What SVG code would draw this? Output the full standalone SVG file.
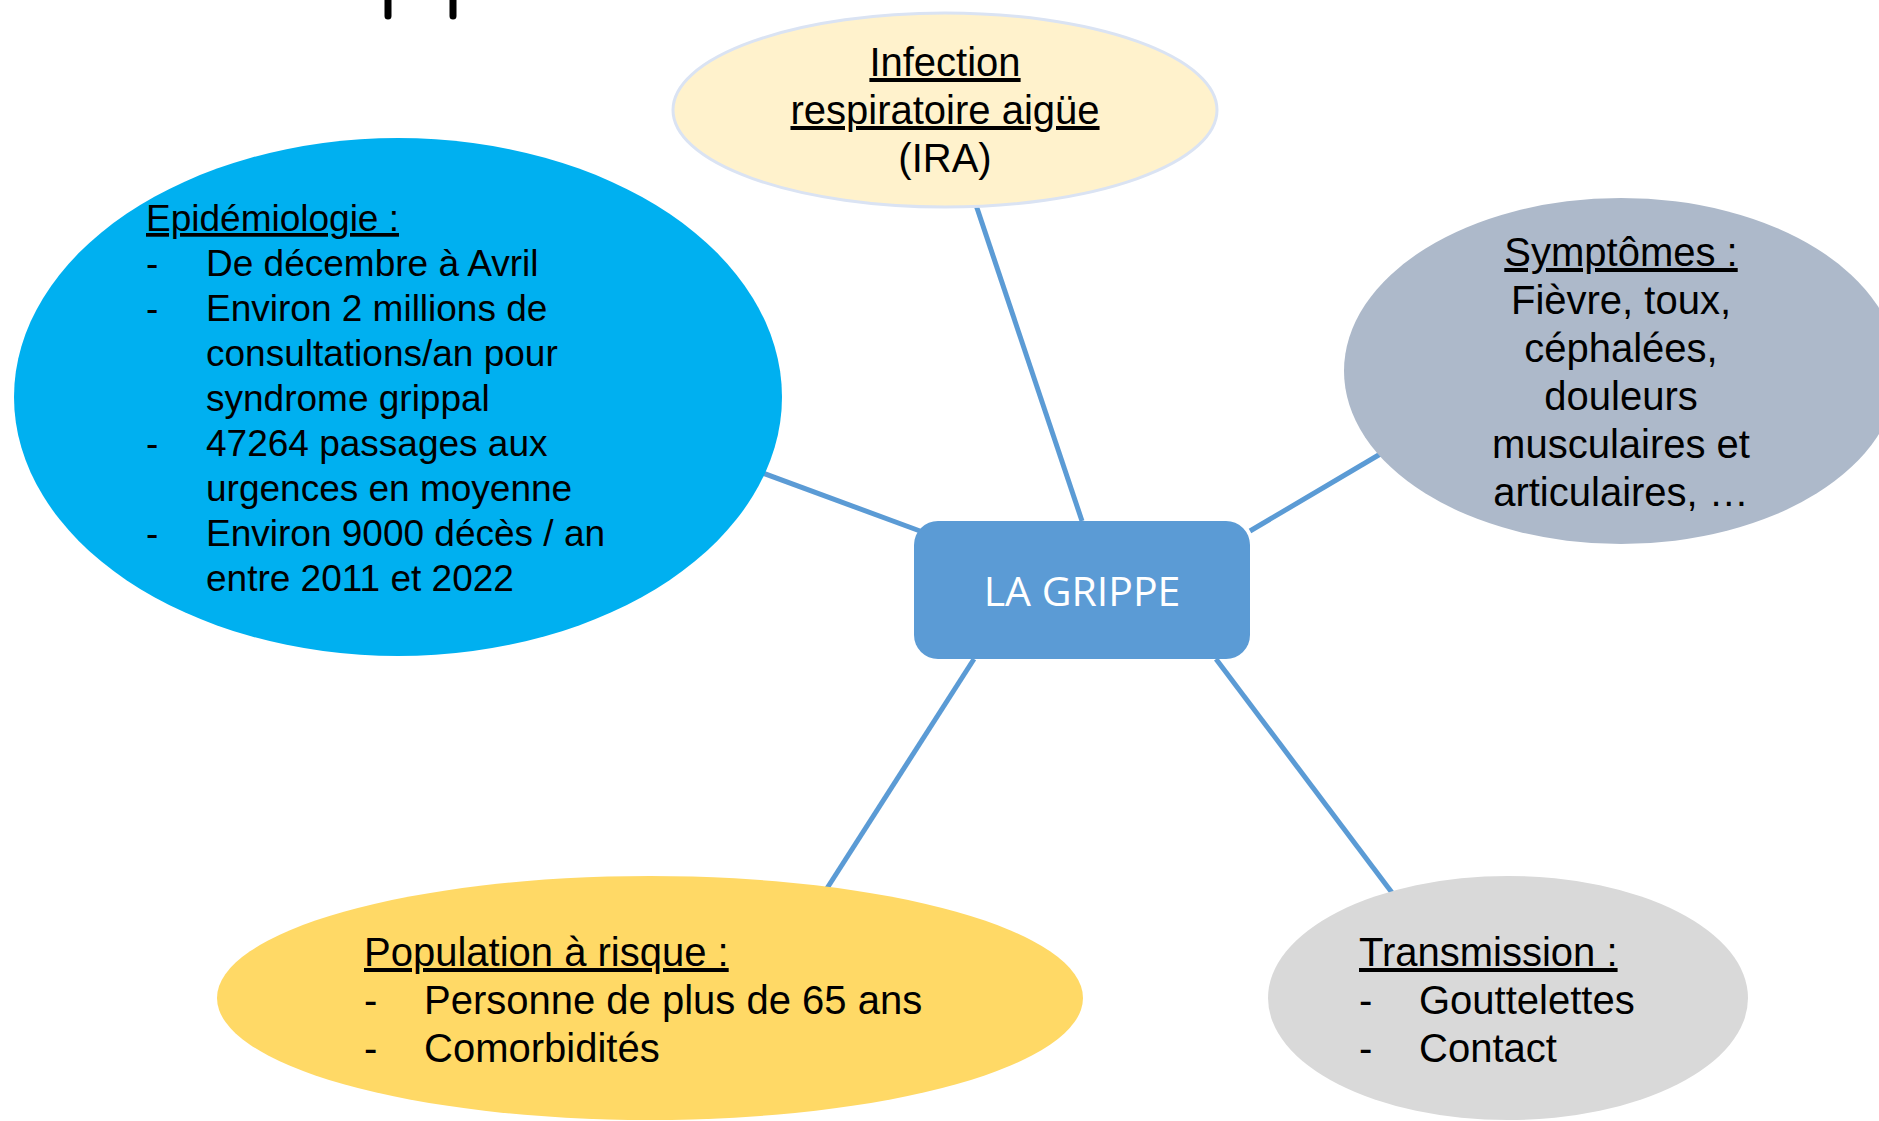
<svg xmlns="http://www.w3.org/2000/svg" width="1879" height="1121" viewBox="0 0 1879 1121">
<style>
.t{font-family:"Liberation Sans",Arial,sans-serif;font-size:40px;fill:#000}
.e{font-size:37px}
.u{text-decoration:underline}
.c{text-anchor:middle}
.conn line{stroke:#5B9BD5;stroke-width:5}
</style>
<rect width="1879" height="1121" fill="#fff"/>
<g id="marks" stroke="#000" stroke-width="7" stroke-linecap="round">
<line x1="388" y1="-5" x2="388" y2="16"/>
<line x1="453" y1="-5" x2="453" y2="16"/>
</g>
<g id="connectors" class="conn">
<line x1="976" y1="205" x2="1082" y2="521"/>
<line x1="760" y1="472" x2="920" y2="531"/>
<line x1="1250" y1="531" x2="1382" y2="453"/>
<line x1="974" y1="659" x2="824" y2="893"/>
<line x1="1216" y1="659" x2="1393" y2="894"/>
</g>
<g id="ira">
<ellipse cx="945" cy="110" rx="272" ry="97" fill="#FFF2CC" stroke="#DAE3F3" stroke-width="3"/>
<text class="t c" x="945" y="76"><tspan class="u">Infection</tspan></text>
<text class="t c" x="945" y="124"><tspan class="u">respiratoire aigüe</tspan></text>
<text class="t c" x="945" y="172">(IRA)</text>
</g>
<g id="epidemiologie">
<ellipse cx="398" cy="397" rx="384" ry="259" fill="#00B0F0"/>
<text class="t e u" x="146" y="231">Epidémiologie :</text>
<text class="t e" x="146" y="276">-</text><text class="t e" x="206" y="276">De décembre à Avril</text>
<text class="t e" x="146" y="321">-</text><text class="t e" x="206" y="321">Environ 2 millions de</text>
<text class="t e" x="206" y="366">consultations/an pour</text>
<text class="t e" x="206" y="411">syndrome grippal</text>
<text class="t e" x="146" y="456">-</text><text class="t e" x="206" y="456">47264 passages aux</text>
<text class="t e" x="206" y="501">urgences en moyenne</text>
<text class="t e" x="146" y="546">-</text><text class="t e" x="206" y="546">Environ 9000 décès / an</text>
<text class="t e" x="206" y="591">entre 2011 et 2022</text>
</g>
<g id="symptomes">
<ellipse cx="1621" cy="371" rx="277" ry="173" fill="#ADB9CA"/>
<text class="t c u" x="1621" y="266">Symptômes :</text>
<text class="t c" x="1621" y="314">Fièvre, toux,</text>
<text class="t c" x="1621" y="362">céphalées,</text>
<text class="t c" x="1621" y="410">douleurs</text>
<text class="t c" x="1621" y="458">musculaires et</text>
<text class="t c" x="1621" y="506">articulaires, …</text>
</g>
<g id="grippe">
<rect x="914" y="521" width="336" height="138" rx="24" fill="#5B9BD5"/>
<text x="1082" y="606" text-anchor="middle" font-family="'Open Sans','Noto Sans',sans-serif" font-size="41" fill="#fff">LA GRIPPE</text>
</g>
<g id="population">
<ellipse cx="650" cy="998" rx="433" ry="122" fill="#FFD966"/>
<text class="t u" x="364" y="966">Population à risque :</text>
<text class="t" x="364" y="1014">-</text><text class="t" x="424" y="1014">Personne de plus de 65 ans</text>
<text class="t" x="364" y="1062">-</text><text class="t" x="424" y="1062">Comorbidités</text>
</g>
<g id="transmission">
<ellipse cx="1508" cy="998" rx="240" ry="122" fill="#D9D9D9"/>
<text class="t u" x="1359" y="966">Transmission :</text>
<text class="t" x="1359" y="1014">-</text><text class="t" x="1419" y="1014">Gouttelettes</text>
<text class="t" x="1359" y="1062">-</text><text class="t" x="1419" y="1062">Contact</text>
</g>
</svg>
